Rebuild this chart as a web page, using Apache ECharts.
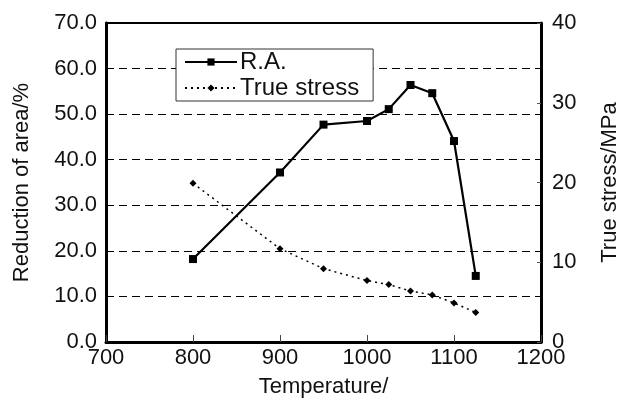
<!DOCTYPE html>
<html>
<head>
<meta charset="utf-8">
<script src="https://cdn.jsdelivr.net/npm/echarts@6/dist/echarts.min.js"></script>
<style>
html,body{margin:0;padding:0;background:#fff;}
#c{width:619px;height:405px;}
</style>
</head>
<body>
<div id="c"></div>
<script>
const temperatures = [800, 900, 950, 1000, 1025, 1050, 1075, 1100, 1125];
const reductionOfArea = [18.2, 37.2, 47.7, 48.5, 51.1, 56.4, 54.6, 44.1, 14.5];
const trueStress = [19.9, 11.7, 9.2, 7.7, 7.2, 6.4, 5.9, 4.9, 3.7];
const seriesNames = ['R.A.', 'True stress'];
const axisNames = { x: 'Temperature/', yLeft: 'Reduction of area/%', yRight: 'True stress/MPa' };

const FONT = '"Liberation Sans", Arial, sans-serif';
const chart = echarts.init(document.getElementById('c'), null, { renderer: 'canvas' });

chart.setOption({
  animation: false,
  backgroundColor: '#fff',
  textStyle: { fontFamily: FONT },
  grid: {
    left: 106, right: 78, top: 23, bottom: 63,
    containLabel: false,
    outerBoundsMode: 'none',
    show: true, borderColor: '#000', borderWidth: 2, backgroundColor: 'transparent'
  },
  legend: {
    orient: 'vertical',
    left: 176, top: 49,
    padding: [1, 14, 1, 8],
    itemGap: 2,
    itemWidth: 52,
    itemHeight: 9,
    backgroundColor: '#fff',
    borderColor: '#333',
    borderWidth: 1,
    textStyle: { fontFamily: FONT, fontSize: 24, color: '#111', padding: [0, 0, 0, -2] },
    data: seriesNames
  },
  xAxis: {
    type: 'value',
    min: 700, max: 1200, interval: 100,
    name: axisNames.x,
    nameLocation: 'middle',
    nameGap: 34,
    nameTextStyle: { fontFamily: FONT, fontSize: 22, color: '#111' },
    axisLine: { show: true, lineStyle: { color: '#000', width: 3 } },
    axisTick: { show: true, inside: true, length: 7, lineStyle: { color: '#444', width: 1 } },
    axisLabel: { fontFamily: FONT, fontSize: 22, color: '#111', margin: 5, formatter: v => String(v) },
    splitLine: { show: false }
  },
  yAxis: [
    {
      type: 'value',
      min: 0, max: 70, interval: 10,
      position: 'left',
      name: axisNames.yLeft,
      nameLocation: 'middle',
      nameRotate: 90,
      nameGap: 73,
      nameTextStyle: { fontFamily: FONT, fontSize: 22, color: '#111' },
      axisLine: { show: true, lineStyle: { color: '#000', width: 3 } },
      axisTick: { show: false },
      axisLabel: {
        fontFamily: FONT, fontSize: 22, color: '#111', margin: 9,
        formatter: v => v.toFixed(1)
      },
      splitLine: { show: true, lineStyle: { color: '#000', width: 1, type: [8, 5] } }
    },
    {
      type: 'value',
      min: 0, max: 40, interval: 10,
      position: 'right',
      name: axisNames.yRight,
      nameLocation: 'middle',
      nameRotate: 90,
      nameGap: 58,
      nameTextStyle: { fontFamily: FONT, fontSize: 22, color: '#111' },
      axisLine: { show: true, lineStyle: { color: '#000', width: 3 } },
      axisTick: { show: true, inside: true, length: 4, lineStyle: { color: '#555', width: 1 } },
      axisLabel: { fontFamily: FONT, fontSize: 22, color: '#111', margin: 11 },
      splitLine: { show: false }
    }
  ],
  series: [
    {
      name: seriesNames[0],
      type: 'line',
      yAxisIndex: 0,
      smooth: false,
      data: temperatures.map((t, i) => [t, reductionOfArea[i]]),
      symbol: 'rect',
      symbolSize: 8,
      itemStyle: { color: '#000' },
      lineStyle: { color: '#000', width: 2.2, type: 'solid' },
      z: 3
    },
    {
      name: seriesNames[1],
      type: 'line',
      yAxisIndex: 1,
      smooth: false,
      data: temperatures.map((t, i) => [t, trueStress[i]]),
      symbol: 'diamond',
      symbolSize: 7,
      itemStyle: { color: '#000' },
      lineStyle: { color: '#000', width: 1.5, type: [2, 4] },
      z: 2
    }
  ]
});
</script>
</body>
</html>
